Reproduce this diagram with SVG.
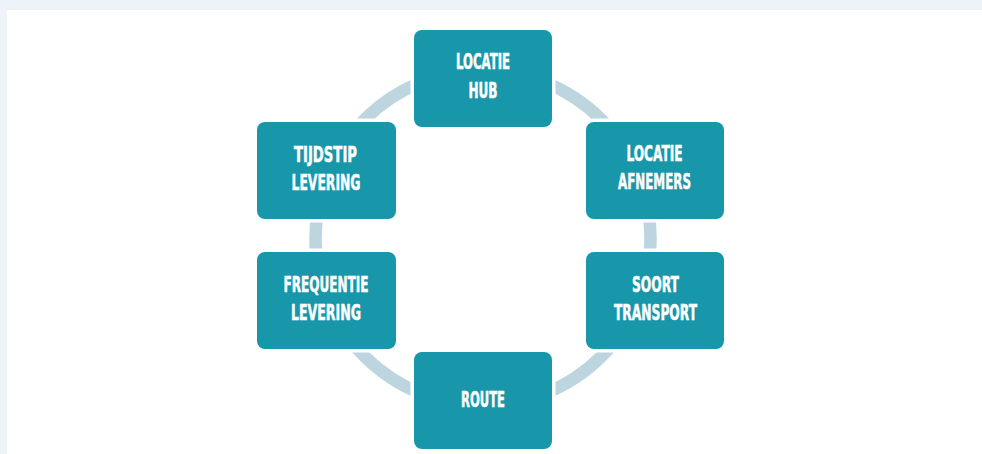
<svg xmlns="http://www.w3.org/2000/svg" width="982" height="454" viewBox="0 0 982 454">
<style>
.box{fill:#1896aa;stroke:#ffffff;stroke-width:7;paint-order:stroke}
.t{font-family:"DejaVu Sans Condensed","Liberation Sans",sans-serif;font-weight:bold;font-size:20.5px;fill:#ffffff;stroke:#ffffff;stroke-width:0.5;text-anchor:middle}
</style>
<rect x="0" y="0" width="982" height="454" fill="#eef3fa"/>
<rect x="7" y="10" width="975" height="444" fill="#ffffff"/>
<g id="connectors">
<circle cx="483" cy="238" r="167.5" fill="none" stroke="#bcd5df" stroke-width="12.5"/>
</g>
<g id="locatie-hub">
<rect class="box" x="414" y="30" width="138" height="97" rx="8"/>
<text class="t" x="483" y="69" textLength="54" lengthAdjust="spacingAndGlyphs">LOCATIE</text>
<text class="t" x="483" y="97.5" textLength="29" lengthAdjust="spacingAndGlyphs">HUB</text>
</g>
<g id="locatie-afnemers">
<rect class="box" x="586" y="122" width="138" height="97" rx="8"/>
<text class="t" x="654.5" y="160.5" textLength="56" lengthAdjust="spacingAndGlyphs">LOCATIE</text>
<text class="t" x="654.5" y="189" textLength="73" lengthAdjust="spacingAndGlyphs">AFNEMERS</text>
</g>
<g id="soort-transport">
<rect class="box" x="586" y="252" width="138" height="97" rx="8"/>
<text class="t" x="655.5" y="291.5" textLength="47" lengthAdjust="spacingAndGlyphs">SOORT</text>
<text class="t" x="655.5" y="320" textLength="83" lengthAdjust="spacingAndGlyphs">TRANSPORT</text>
</g>
<g id="route">
<rect class="box" x="414" y="352" width="138" height="97" rx="8"/>
<text class="t" x="483" y="407" textLength="44" lengthAdjust="spacingAndGlyphs">ROUTE</text>
</g>
<g id="frequentie-levering">
<rect class="box" x="257" y="252" width="139" height="97" rx="8"/>
<text class="t" x="326" y="291.5" textLength="85" lengthAdjust="spacingAndGlyphs">FREQUENTIE</text>
<text class="t" x="326" y="320" textLength="70" lengthAdjust="spacingAndGlyphs">LEVERING</text>
</g>
<g id="tijdstip-levering">
<rect class="box" x="257" y="122" width="139" height="97" rx="8"/>
<text class="t" x="325.5" y="161.5" textLength="63" lengthAdjust="spacingAndGlyphs">TIJDSTIP</text>
<text class="t" x="326" y="190" textLength="69" lengthAdjust="spacingAndGlyphs">LEVERING</text>
</g>
</svg>
